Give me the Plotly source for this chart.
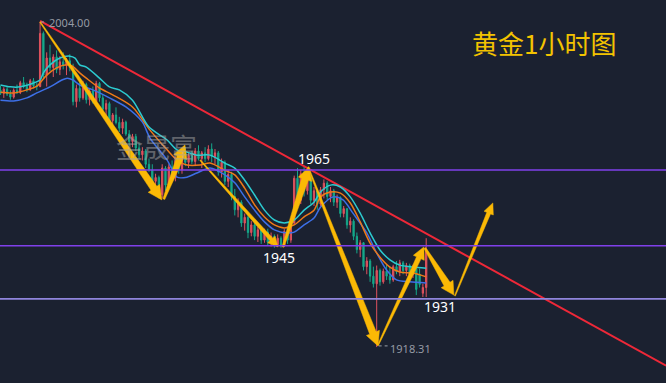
import math
import plotly.graph_objects as go

# ---------------- data ----------------
opens = [1986.0,1985.2,1986.3,1985.0,1984.2,1986.0,1985.4,1988.0,1987.0,1986.2,
 1988.5,1987.2,1987.0,2001.0,1990.0,1994.5,1992.0,1994.8,1991.5,1993.5,
 1992.5,1993.8,1992.0,1983.0,1986.5,1984.0,1987.5,1983.5,1985.8,1983.0,
 1987.8,1984.0,1981.0,1982.5,1978.0,1979.5,1977.5,1976.0,1977.6,1974.5,
 1972.5,1973.8,1970.8,1969.0,1970.0,1966.5,1965.0,1962.0,1963.0,1958.5,
 1965.5,1961.0,1965.8,1963.0,1967.5,1965.0,1969.8,1967.0,1968.8,1967.2,
 1970.0,1968.0,1969.5,1968.0,1970.5,1968.5,1969.5,1964.5,1967.0,1962.0,
 1963.8,1958.0,1954.5,1956.5,1951.0,1952.5,1948.5,1950.5,1947.5,1949.2,
 1946.5,1948.6,1946.0,1947.5,1945.3,1947.0,1945.0,1948.8,1946.5,1951.0,
 1962.8,1957.0,1964.0,1959.5,1963.0,1957.0,1959.5,1956.0,1959.8,1961.5,
 1958.0,1959.5,1956.5,1957.8,1953.5,1954.8,1950.5,1951.5,1947.5,1944.0,
 1945.8,1939.5,1941.0,1937.0,1935.0,1938.5,1935.5,1938.3,1937.0,1936.0,
 1939.5,1938.2,1940.5,1938.5,1939.8,1937.5,1939.0,1937.5,1932.5,1934.0]
highs = [1987.2,1986.8,1987.0,1986.0,1986.5,1987.5,1988.5,1989.5,1988.0,1989.0,
 1989.2,1988.0,2004.0,2001.5,1996.0,1998.0,1995.5,1996.5,1995.0,1996.0,
 1994.5,1995.5,1993.0,1987.5,1988.0,1988.5,1988.0,1986.5,1987.0,1988.5,
 1988.2,1985.0,1983.5,1983.0,1980.0,1981.5,1979.0,1978.5,1978.0,1975.5,
 1974.5,1974.5,1972.0,1971.0,1970.5,1968.0,1966.5,1964.0,1963.5,1966.5,
 1966.0,1966.5,1967.5,1968.5,1970.0,1970.5,1971.0,1969.5,1970.0,1970.8,
 1971.5,1970.0,1971.0,1971.5,1972.0,1970.5,1970.0,1968.0,1967.5,1965.0,
 1964.5,1960.0,1957.5,1957.0,1953.5,1953.0,1951.5,1951.0,1950.0,1950.0,
 1949.5,1949.5,1948.5,1948.0,1948.0,1947.5,1949.5,1950.0,1952.0,1963.5,
 1965.5,1965.0,1965.8,1964.5,1963.5,1960.5,1960.0,1960.5,1962.5,1962.0,
 1960.5,1960.0,1958.5,1958.0,1955.5,1955.0,1952.5,1952.0,1948.5,1946.5,
 1946.0,1942.0,1941.5,1939.5,1939.8,1939.0,1939.0,1940.0,1939.5,1940.0,
 1941.0,1941.3,1941.0,1940.5,1940.3,1940.0,1939.5,1939.0,1935.0,1947.0]
lows = [1984.8,1984.0,1984.5,1983.5,1983.8,1985.0,1985.0,1986.5,1985.5,1985.8,
 1986.5,1986.0,1986.8,1989.0,1987.0,1991.0,1989.5,1990.5,1990.0,1991.5,
 1990.0,1991.0,1982.0,1981.5,1983.0,1983.5,1982.5,1982.0,1982.5,1982.8,
 1983.0,1980.0,1978.5,1977.0,1976.5,1977.0,1975.0,1974.5,1974.0,1971.5,
 1971.0,1970.0,1968.0,1967.5,1965.5,1964.5,1961.0,1959.5,1957.5,1957.5,
 1959.5,1960.0,1962.0,1962.0,1964.0,1964.0,1966.0,1965.5,1966.5,1966.0,
 1967.5,1965.5,1967.0,1967.5,1967.0,1966.5,1963.5,1963.0,1961.0,1960.5,
 1957.0,1953.0,1952.5,1950.0,1949.0,1947.0,1947.5,1946.5,1946.0,1945.5,
 1945.8,1945.0,1944.8,1944.5,1944.8,1944.5,1944.7,1945.5,1945.8,1950.5,
 1955.0,1956.0,1958.0,1958.5,1956.0,1955.5,1954.5,1955.5,1957.5,1957.0,
 1956.5,1955.5,1955.0,1952.5,1952.5,1949.5,1948.5,1946.5,1943.0,1942.0,
 1938.5,1937.5,1935.5,1934.0,1918.31,1934.5,1935.0,1936.0,1935.0,1935.5,
 1937.5,1937.0,1937.5,1937.0,1936.5,1936.5,1932.0,1934.0,1931.5,1931.5]
closes = [1985.2,1986.3,1985.0,1984.2,1986.0,1985.4,1988.0,1987.0,1986.2,1988.5,
 1987.2,1987.0,2001.0,1990.0,1994.5,1992.0,1994.8,1991.5,1993.5,1992.5,
 1993.8,1992.0,1983.0,1986.5,1984.0,1987.5,1983.5,1985.8,1983.0,1987.8,
 1984.0,1981.0,1982.5,1978.0,1979.5,1977.5,1976.0,1977.6,1974.5,1972.5,
 1973.8,1970.8,1969.0,1970.0,1966.5,1965.0,1962.0,1963.0,1958.5,1965.5,
 1961.0,1965.8,1963.0,1967.5,1965.0,1969.8,1967.0,1968.8,1967.2,1970.0,
 1968.0,1969.5,1968.0,1970.5,1968.5,1969.5,1964.5,1967.0,1962.0,1963.8,
 1958.0,1954.5,1956.5,1951.0,1952.5,1948.5,1950.5,1947.5,1949.2,1946.5,
 1948.6,1946.0,1947.5,1945.3,1947.0,1945.0,1948.8,1946.5,1951.0,1962.8,
 1957.0,1964.0,1959.5,1963.0,1957.0,1959.5,1956.0,1959.8,1961.5,1958.0,
 1959.5,1956.5,1957.8,1953.5,1954.8,1950.5,1951.5,1947.5,1944.0,1945.8,
 1939.5,1941.0,1937.0,1935.0,1938.5,1935.5,1938.3,1937.0,1936.0,1939.5,
 1938.2,1940.5,1938.5,1939.8,1937.5,1939.0,1933.5,1934.8,1934.0,1944.0]
bars = list(range(len(opens)))

# moving-average lines (bar index, price)
ma_cyan_x = [0,3,6,10,12,13,15,18,21,22.6,24,26,30,33,36,40,45,50.5,53.5,56.5,59.5,63.5,68,71,74,77,80,83,86,89,92,95,97,100,103,106,109,112,115,118,121,125,129]
ma_cyan_y = [1987.4,1986.9,1986.9,1987.9,1988.7,1990.6,1992.7,1994.5,1995.0,1994.5,1992.7,1992.1,1989.2,1986.9,1986.1,1983.4,1976.3,1972.9,1970.3,1969.7,1968.9,1968.9,1966.8,1965.5,1962.3,1958.4,1954.4,1951.8,1951.0,1951.8,1954.4,1956.5,1959.2,1961.0,1960.5,1957.9,1953.6,1948.4,1943.9,1941.3,1939.9,1939.4,1939.1]
ma_orange_x = [0,4,8,11,14,17,20,21.7,24,26,30,34,40,45.3,50.5,53.5,56.5,60.5,63.5,68,71,74,77,80,83,86,89,92,95,97,100,103,106,109,112,115,118,121,125,129]
ma_orange_y = [1985.5,1985.3,1986.1,1987.1,1990.0,1991.9,1992.7,1992.4,1990.6,1989.2,1986.6,1984.8,1981.6,1975.5,1970.3,1967.6,1966.3,1966.3,1966.8,1964.9,1963.7,1960.2,1955.8,1952.6,1950.5,1949.7,1950.5,1952.6,1954.4,1957.9,1959.2,1958.9,1956.3,1951.3,1945.7,1942.0,1939.4,1938.1,1937.8,1936.8]
ma_blue_x = [0,4,8,11,15,18.6,20.2,22,24,28,33,38,43,45.3,50.5,53.5,56.5,59.5,63.5,68,71,74,77,80,83,86.8,89,92,95,97,100.8,103.8,106.8,111,114,117,120,124,129]
ma_blue_y = [1983.4,1983.2,1984.0,1985.3,1986.9,1988.7,1989.2,1988.7,1987.4,1986.1,1984.0,1981.6,1977.6,1973.4,1967.6,1963.1,1963.1,1964.2,1965.5,1963.7,1961.6,1957.9,1954.4,1951.3,1949.2,1948.4,1948.6,1950.5,1952.3,1955.2,1957.9,1957.1,1953.6,1948.4,1943.1,1938.6,1936.0,1935.5,1935.2]

# horizontal levels and trend line
levels = [1965, 1945, 1931]
trend_x = [12, 201.7]
trend_y = [2004.3, 1913.4]

# zig-zag forecast arrows (start bar, start price, end bar, end price)
arrow_x0 = [12.0, 49.5, 60.5, 85.6, 93.2, 114.4, 128.6, 137.7]
arrow_p0 = [2004.0, 1957.3, 1967.6, 1944.7, 1965.8, 1918.8, 1944.4, 1931.8]
arrow_x1 = [48.9, 55.9, 84.1, 93.5, 114.4, 128.3, 137.4, 149.2]
arrow_p1 = [1957.1, 1971.6, 1944.7, 1965.8, 1918.6, 1944.7, 1932.0, 1956.3]

high_label = "2004.00"
low_label = "1918.31"
level_labels = ["1965", "1945", "1931"]
title = "黄金1小时图"
watermark = "金晟富"

# ---------------- layout geometry ----------------
W, H = 666, 383
X0, X1 = -0.15, 201.67
Y0, Y1 = 1908.83, 2009.8
sx = W / (X1 - X0)
sy = H / (Y1 - Y0)

def to_px(x, y):
    return (x - X0) * sx, (Y1 - y) * sy

def to_data(px, py):
    return px / sx + X0, Y1 - py / sy

def arrow_poly(x0, y0, x1, y1, w0, w1, hw, hl):
    ax, ay = to_px(x0, y0)
    bx, by = to_px(x1, y1)
    dx, dy = bx - ax, by - ay
    L = math.hypot(dx, dy)
    ux, uy = dx / L, dy / L
    nx, ny = -uy, ux
    hx, hy = bx - ux * hl, by - uy * hl
    pts = [
        (ax + nx * w0 / 2, ay + ny * w0 / 2),
        (hx + nx * w1 / 2, hy + ny * w1 / 2),
        (hx + nx * hw / 2, hy + ny * hw / 2),
        (bx, by),
        (hx - nx * hw / 2, hy - ny * hw / 2),
        (hx - nx * w1 / 2, hy - ny * w1 / 2),
        (ax - nx * w0 / 2, ay - ny * w0 / 2),
    ]
    pts.append(pts[0])
    xs, ys = zip(*[to_data(p, q) for p, q in pts])
    return list(xs), list(ys)

arrow_styles = [(1, 7, 14, 14), (2, 7, 14, 13), (1, 4, 10, 10), (2, 7, 14, 13),
                (1, 7, 14, 14), (1, 5, 12, 12), (2, 7, 14, 13), (1, 4, 10, 11)]

BG = "#1b2130"
RED = "#e0525e"
GREEN = "#15a88a"
GOLD = "#fbb905"

fig = go.Figure()

# trend line
fig.add_trace(go.Scatter(x=trend_x, y=trend_y, mode="lines",
                         line=dict(color="#ee2838", width=2), hoverinfo="skip"))

# candles
fig.add_trace(go.Candlestick(
    x=bars, open=opens, high=highs, low=lows, close=closes,
    increasing=dict(line=dict(color=RED, width=1), fillcolor=RED),
    decreasing=dict(line=dict(color=GREEN, width=1), fillcolor=GREEN),
    whiskerwidth=0, hoverinfo="skip"))

# moving averages
for xs, ys, col in [(ma_blue_x, ma_blue_y, "#3d6fe6"),
                    (ma_orange_x, ma_orange_y, "#ee7a18"),
                    (ma_cyan_x, ma_cyan_y, "#2ccbd0")]:
    fig.add_trace(go.Scatter(x=xs, y=ys, mode="lines",
                             line=dict(color=col, width=1.5, shape="spline", smoothing=0.8),
                             hoverinfo="skip"))

# level lines
level_colors = ["#8040ea", "#8040ea", "#9085dc"]
for lv, col in zip(levels, level_colors):
    fig.add_shape(type="line", xref="paper", x0=0, x1=1, yref="y", y0=lv, y1=lv,
                  line=dict(color=col, width=1.6), layer="above")

# arrows
for k in range(len(arrow_x0)):
    w0, w1, hw, hl = arrow_styles[k]
    xs, ys = arrow_poly(arrow_x0[k], arrow_p0[k], arrow_x1[k], arrow_p1[k], w0, w1, hw, hl)
    fig.add_trace(go.Scatter(x=xs, y=ys, mode="lines", fill="toself",
                             fillcolor=GOLD, line=dict(color=GOLD, width=0.5),
                             hoverinfo="skip"))

# high / low markers
hi_i = highs.index(max(highs))
lo_i = lows.index(min(lows))
fig.add_trace(go.Scatter(x=[hi_i + 0.3, hi_i + 1.8], y=[max(highs)] * 2, mode="lines",
                         line=dict(color="#9aa0aa", width=1, dash="dot"), hoverinfo="skip"))
fig.add_trace(go.Scatter(x=[lo_i + 0.6, lo_i + 3.3], y=[min(lows) + 0.3] * 2, mode="lines",
                         line=dict(color="#9aa0aa", width=1, dash="dot"), hoverinfo="skip"))

fig.add_annotation(x=hi_i + 2.0, y=max(highs), text=high_label, showarrow=False,
                   xanchor="left", yanchor="middle",
                   font=dict(family="Noto Sans", size=11, color="#959aa4"))
fig.add_annotation(x=lo_i + 3.5, y=min(lows) - 0.3, text=low_label, showarrow=False,
                   xanchor="left", yanchor="middle",
                   font=dict(family="Noto Sans", size=11, color="#959aa4"))

# level labels
lab_font = dict(family="Noto Sans", size=14, color="#ffffff")
fig.add_annotation(x=95.0, y=1968.1, text=level_labels[0], showarrow=False, font=lab_font)
fig.add_annotation(x=84.4, y=1941.8, text=level_labels[1], showarrow=False, font=lab_font)
fig.add_annotation(x=133.2, y=1928.9, text=level_labels[2], showarrow=False, font=lab_font)

# watermark
fig.add_annotation(x=47.4, y=1971.2, text=watermark, showarrow=False,
                   font=dict(family="Noto Sans CJK SC", size=27, color="rgba(165,165,165,0.5)"))

# title
fig.add_annotation(xref="paper", yref="paper", x=470 / W, y=1 - 42 / H, text=title,
                   showarrow=False, xanchor="left", yanchor="middle",
                   font=dict(family="Noto Sans CJK SC", size=26, color="#f3c300"))

fig.update_layout(
    width=W, height=H, margin=dict(l=0, r=0, t=0, b=0),
    paper_bgcolor=BG, plot_bgcolor=BG, showlegend=False,
    boxgap=0.45,
    xaxis=dict(range=[X0, X1], visible=False, rangeslider=dict(visible=False), fixedrange=True),
    yaxis=dict(range=[Y0, Y1], visible=False, fixedrange=True),
)

fig.write_html("out.html", config={"displayModeBar": False},
               post_script="document.body.style.margin='0';document.body.style.overflow='hidden';document.body.style.background='#1b2130';")
